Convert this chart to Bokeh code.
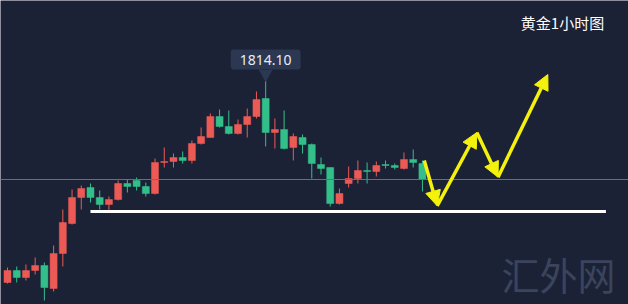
from bokeh.plotting import figure
from bokeh.models import ColumnDataSource, Span, Label, Arrow, NormalHead, Range1d
from bokeh.embed import file_html
from bokeh.resources import INLINE

# ---- data: gold 1-hour candles ----
opens = [1783.8, 1785.6, 1784.55, 1785.6, 1786.35, 1782.9, 1788.15, 1792.65, 1796.55, 1798.05,
         1796.55, 1795.5, 1796.25, 1798.65, 1799.1, 1798.2, 1797.15, 1801.8, 1801.95, 1802.55,
         1802.1, 1804.65, 1805.55, 1808.7, 1807.2, 1806.15, 1807.5, 1808.7, 1811.4, 1806.3,
         1806.75, 1804.05, 1805.55, 1804.5, 1801.5, 1801.05, 1795.65, 1798.65, 1799.4, 1800.6,
         1800.45, 1801.5, 1801.35, 1800.9, 1802.25, 1801.65]
highs = [1786.05, 1786.2, 1786.5, 1787.55, 1786.8, 1789.35, 1794.75, 1797.75, 1798.35, 1798.65,
         1797.6, 1796.7, 1799.1, 1799.25, 1799.55, 1798.8, 1802.4, 1804.05, 1803.15, 1803.45,
         1805.1, 1807.05, 1809.15, 1809.75, 1809.6, 1808.25, 1809.9, 1812.45, 1814.1, 1808.4,
         1809.6, 1806.15, 1806.0, 1804.65, 1802.55, 1801.05, 1797.9, 1801.2, 1802.1, 1801.8,
         1801.95, 1802.1, 1801.65, 1803.3, 1803.75, 1802.1]
lows = [1783.65, 1783.8, 1784.1, 1785.0, 1781.1, 1782.45, 1786.2, 1792.5, 1794.75, 1795.8,
        1794.75, 1794.6, 1796.1, 1797.3, 1797.6, 1796.7, 1797.0, 1801.05, 1801.05, 1801.65,
        1801.65, 1804.5, 1805.55, 1807.05, 1806.0, 1806.0, 1805.55, 1808.4, 1804.2, 1803.9,
        1803.75, 1802.1, 1803.15, 1799.4, 1800.0, 1795.2, 1795.5, 1798.05, 1798.65, 1798.65,
        1799.7, 1800.9, 1800.75, 1800.75, 1801.05, 1797.45]
closes = [1785.6, 1784.55, 1785.6, 1786.35, 1783.05, 1788.15, 1792.8, 1796.55, 1797.9, 1796.55,
          1795.5, 1796.25, 1798.65, 1798.2, 1798.2, 1797.15, 1801.8, 1801.95, 1802.55, 1802.1,
          1804.65, 1805.7, 1808.7, 1807.2, 1806.15, 1807.5, 1808.7, 1811.25, 1806.3, 1806.75,
          1803.9, 1805.7, 1804.5, 1801.65, 1800.9, 1795.65, 1797.15, 1799.4, 1800.6, 1800.45,
          1801.35, 1801.35, 1801.05, 1802.25, 1801.8, 1799.25]

peak_label = "1814.10"
title_text = "黄金1小时图"
watermark_text = "汇外网"

support_level = 1794.45
support_x = [9.0, 64.9]

# forecast zig-zag path (candle index, price)
path_x = [45.2, 46.6, 50.9, 53.2, 58.6]
path_y = [1802.1, 1795.3, 1806.3, 1799.6, 1815.0]

BG = "#1c2236"
UP = "#ec5a55"
DOWN = "#33bf8a"
YEL = "#f4f20c"
TIP = "#2c3752"

idx = list(range(len(opens)))
colors = [UP if c >= o else DOWN for o, c in zip(opens, closes)]
tops = [max(o, c) for o, c in zip(opens, closes)]
bots = [min(o, c) for o, c in zip(opens, closes)]
# give dojis a visible body
bots = [b if t - b > 0.12 else t - 0.15 for t, b in zip(tops, bots)]

src = ColumnDataSource(dict(x=idx, top=tops, bottom=bots, high=highs, low=lows, color=colors))

p = figure(width=628, height=304, output_backend="svg", toolbar_location=None,
           x_range=Range1d(-0.76, 67.35), y_range=Range1d(1780.5, 1826.1),
           x_axis_type=None, y_axis_type=None, min_border=0,
           background_fill_color=BG, border_fill_color=BG)
p.grid.visible = False
p.outline_line_color = None

# last price line
p.add_layout(Span(location=closes[-1], dimension="width", line_color="#4b7d7b",
                  line_width=1))

p.segment(x0="x", y0="high", x1="x", y1="low", color="color", line_width=1, source=src)
p.vbar(x="x", width=0.76, top="top", bottom="bottom", fill_color="color",
       line_color="color", line_width=0.5, source=src)

# support line
p.line(support_x, [support_level, support_level], line_color="white", line_width=3)

# forecast arrows
for i in range(len(path_x) - 1):
    p.add_layout(Arrow(x_start=path_x[i], y_start=path_y[i], x_end=path_x[i + 1], y_end=path_y[i + 1],
                       line_color=YEL, line_width=3.5,
                       end=NormalHead(size=15, fill_color=YEL, line_color=YEL)))

# peak callout
peak_i = highs.index(max(highs))
p.scatter([peak_i], [max(highs) + 1.0], marker="inverted_triangle", size=14,
          fill_color=TIP, line_color=None)
p.add_layout(Label(x=peak_i, y=max(highs), y_offset=11, text=peak_label,
                   text_align="center", text_baseline="bottom", text_color="#e8ecf4",
                   text_font="Noto Sans", text_font_size="14px",
                   background_fill_color=TIP,
                   padding=dict(left=9, right=9, top=5, bottom=5), border_radius=3))

# title
p.add_layout(Label(x=562, y=282, x_units="screen", y_units="screen", text=title_text,
                   text_align="center", text_baseline="middle", text_color="white",
                   text_font="Noto Sans CJK SC", text_font_size="15px"))

# watermark
p.add_layout(Label(x=558, y=31, x_units="screen", y_units="screen", text=watermark_text,
                   text_align="center", text_baseline="middle", text_color="#3a445d",
                   text_font="Noto Sans CJK SC", text_font_size="38px"))

open("out.html", "w").write(file_html(p, INLINE))
